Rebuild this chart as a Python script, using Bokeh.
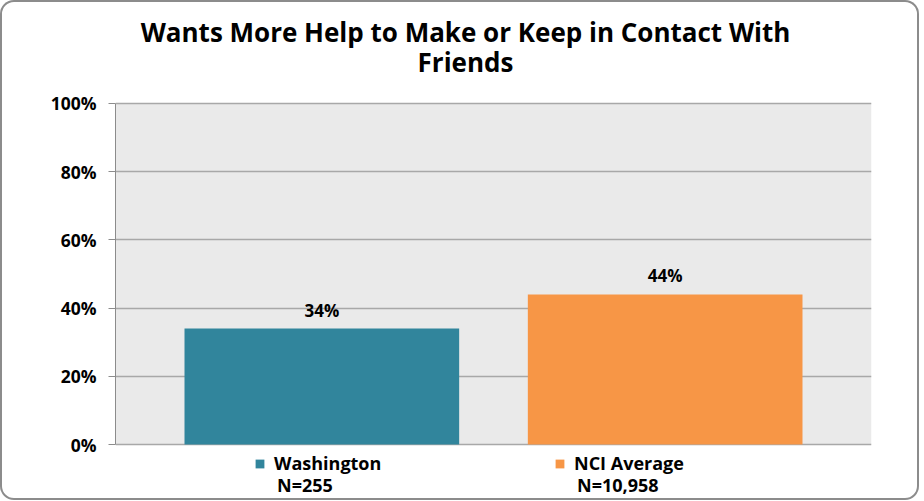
from bokeh.plotting import figure
from bokeh.core.properties import value
from bokeh.models import (ColumnDataSource, FactorRange, Range1d, FixedTicker,
                          PrintfTickFormatter, LabelSet, Legend, LegendItem, Label,
                          BoxAnnotation)
from bokeh.embed import file_html
from bokeh.resources import INLINE

title_line1 = "Wants More Help to Make or Keep in Contact With"
title_line2 = "Friends"
groups = ["Washington", "NCI Average"]
sample_sizes = ["N=255", "N=10,958"]
values = [34, 44]
colors = ["#31859C", "#F79646"]
y_ticks = [0, 20, 40, 60, 80, 100]

FONT = "Open Sans"

src = ColumnDataSource(dict(
    x=groups, top=values, color=colors,
    label=[f"{v}%" for v in values],
))

# frame is extended above and below the 0-100 value area to hold title & legend
p = figure(
    x_range=FactorRange(*groups, range_padding=0.101, range_padding_units="absolute",
                        factor_padding=0.0),
    y_range=Range1d(-16.42, 130.2),
    width=919, height=500, title=None,
    output_backend="svg", toolbar_location=None,
    min_border_left=115, min_border_right=48, min_border_top=0, min_border_bottom=0,
)
p.styles = {"box-shadow": "inset 0 0 0 2px #8c8c8c", "border-radius": "14px",
            "overflow": "hidden", "background-color": "white"}
p.background_fill_color = None
p.border_fill_color = None
p.outline_line_color = None

# grey plot area (value area 0..100)
p.add_layout(BoxAnnotation(bottom=y_ticks[0], top=y_ticks[-1], fill_color="#EAEAEA",
                           fill_alpha=1, line_color=None, level="image"))

# title
for txt, ty in ((title_line1, 469), (title_line2, 439)):
    p.add_layout(Label(x=350, y=ty, x_units="screen", y_units="screen", text=txt,
                       text_align="center", text_baseline="alphabetic", text_font=FONT,
                       text_font_size="26px", text_font_style="bold",
                       text_color="black"))

r = p.vbar(x="x", top="top", width=0.80, color="color", line_color=None, source=src)
dummy = p.vbar(x="x", top="top", width=0.80, fill_alpha=0, line_alpha=0, source=src)

labels = LabelSet(x="x", y="top", text="label", source=src, y_offset=12,
                  text_align="center", text_baseline="alphabetic",
                  text_font=value(FONT), text_font_size=value("17px"),
                  text_font_style="bold", text_color="black")
p.add_layout(labels)

# axes
p.xaxis.visible = False
p.yaxis.bounds = (y_ticks[0], y_ticks[-1])
p.yaxis.ticker = FixedTicker(ticks=y_ticks)
p.yaxis.formatter = PrintfTickFormatter(format="%d%%")
p.yaxis.major_label_text_font = FONT
p.yaxis.major_label_text_font_size = "17.5px"
p.yaxis.major_label_text_font_style = "bold"
p.yaxis.major_label_text_color = "black"
p.yaxis.axis_line_color = "#8C8C8C"
p.yaxis.major_tick_line_color = "#8C8C8C"
p.yaxis.major_tick_in = 0
p.yaxis.major_tick_out = 7
p.yaxis.minor_tick_line_color = None
p.yaxis.major_label_standoff = 12

p.xgrid.grid_line_color = None
p.ygrid.ticker = FixedTicker(ticks=y_ticks)
p.ygrid.grid_line_color = "#A8A8A8"
p.ygrid.grid_line_width = 1.5

common = dict(orientation="horizontal", glyph_width=11, glyph_height=11,
              spacing=50, padding=0, margin=0,
              border_line_color=None, background_fill_alpha=0,
              label_text_font=FONT, label_text_font_size="18px",
              label_text_font_style="bold", label_text_color="black")
legend1 = Legend(items=[LegendItem(label=g, renderers=[r], index=i)
                        for i, g in enumerate(groups)],
                 label_standoff=9, label_width=230, location=(139, 25), **common)
legend2 = Legend(items=[LegendItem(label=n, renderers=[dummy], index=i)
                        for i, n in enumerate(sample_sizes)],
                 label_standoff=12, label_width=227, location=(139, 3), **common)
p.add_layout(legend1)
p.add_layout(legend2)

open("out.html", "w").write(file_html(p, INLINE))
